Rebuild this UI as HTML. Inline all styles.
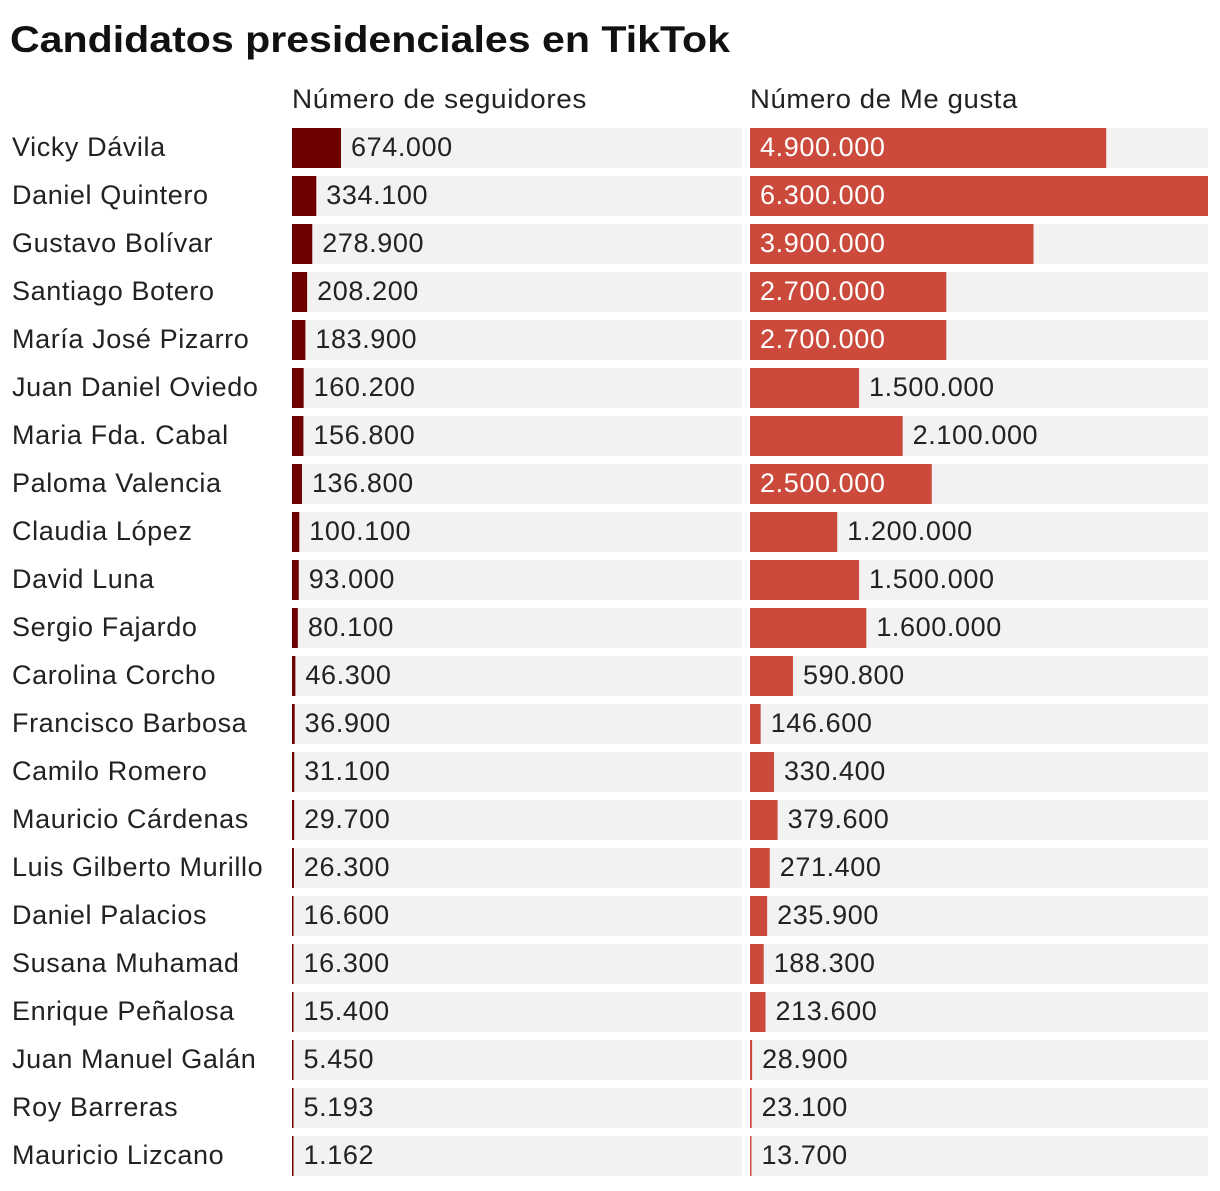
<!DOCTYPE html>
<html><head><meta charset="utf-8"><style>
body{margin:0;background:#fff;width:1220px;height:1186px;overflow:hidden;font-family:"Liberation Sans",sans-serif;color:#1a1a1a}
svg text{letter-spacing:0.6px}
</style></head><body>
<svg id="c" width="1220" height="1186">
<text x="10" y="52" font-size="37" font-weight="bold" font-family="Liberation Sans" fill="#111" textLength="720" lengthAdjust="spacingAndGlyphs" style="letter-spacing:0">Candidatos presidenciales en TikTok</text>
<text x="292" y="108" font-size="27" fill="#222" textLength="295" lengthAdjust="spacingAndGlyphs">Número de seguidores</text>
<text x="750" y="108" font-size="27" fill="#222" textLength="268" lengthAdjust="spacingAndGlyphs">Número de Me gusta</text>
</svg>
<script>
const names=["Vicky Dávila","Daniel Quintero","Gustavo Bolívar","Santiago Botero","María José Pizarro","Juan Daniel Oviedo","Maria Fda. Cabal","Paloma Valencia","Claudia López","David Luna","Sergio Fajardo","Carolina Corcho","Francisco Barbosa","Camilo Romero","Mauricio Cárdenas","Luis Gilberto Murillo","Daniel Palacios","Susana Muhamad","Enrique Peñalosa","Juan Manuel Galán","Roy Barreras","Mauricio Lizcano"];
const followers=[674000,334100,278900,208200,183900,160200,156800,136800,100100,93000,80100,46300,36900,31100,29700,26300,16600,16300,15400,5450,5193,1162];
const likes=[4900000,6300000,3900000,2700000,2700000,1500000,2100000,2500000,1200000,1500000,1600000,590800,146600,330400,379600,271400,235900,188300,213600,28900,23100,13700];
const svg=document.getElementById('c');
const NS='http://www.w3.org/2000/svg';
const maxV=6300000, scaleW=458;
const x=v=>v/maxV*scaleW;
const fmt=v=>String(v).replace(/\B(?=(\d{3})+(?!\d))/g,'.');
function mk(t,a){const e=document.createElementNS(NS,t);for(const k in a)e.setAttribute(k,a[k]);svg.appendChild(e);return e;}
names.forEach((n,i)=>{
  const y=128+i*48;
  let b=mk('rect',{x:292,y:y,width:450,height:40,fill:'#f2f2f2'});
  
  
  b=mk('rect',{x:750,y:y,width:458,height:40,fill:'#f2f2f2'});
  
  
  let t=mk('text',{x:12,y:y+28,'font-size':27,fill:'#222'});t.textContent=n;
  
  
  const fw=Math.max(x(followers[i]),1.5);
  let r=mk('rect',{x:292,y:y,width:fw,height:40,fill:'#6e0000'});
  
  
  let l=mk('text',{x:292+fw+10,y:y+28,'font-size':27,fill:'#222'});l.textContent=fmt(followers[i]);
  
  
  const lw=Math.max(x(likes[i]),1.5);
  r=mk('rect',{x:750,y:y,width:lw,height:40,fill:'#cc4a3c'});
  
  
  const inside=lw>175;
  l=mk('text',{x:inside?760:750+lw+10,y:y+28,'font-size':27,fill:inside?'#fff':'#222'});l.textContent=fmt(likes[i]);
  
  
});
</script>
</body></html>
